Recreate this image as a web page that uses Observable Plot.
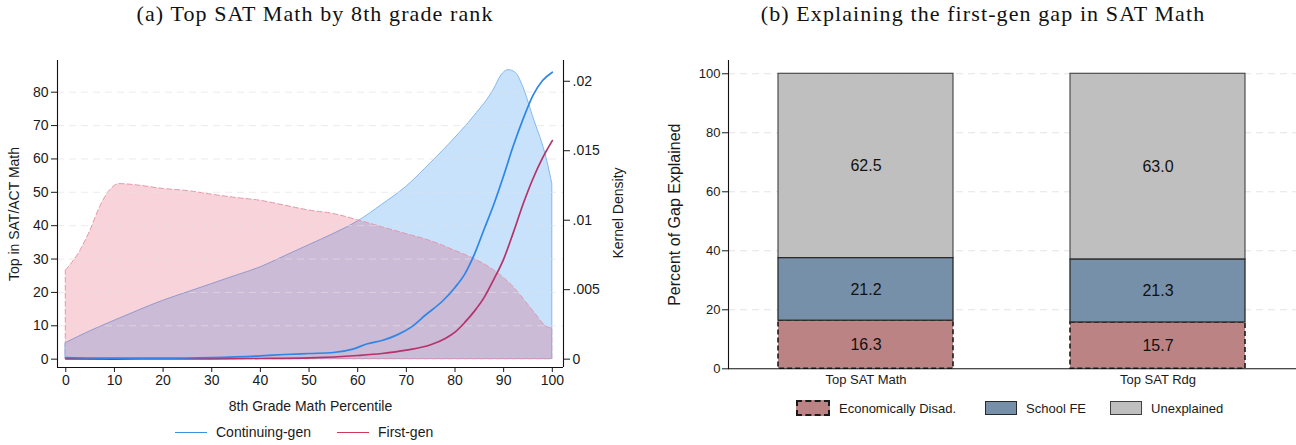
<!DOCTYPE html>
<html>
<head>
<meta charset="utf-8">
<script src="https://cdn.jsdelivr.net/npm/d3@7"></script>
<script src="https://cdn.jsdelivr.net/npm/@observablehq/plot@0.6"></script>
<style>
  body { margin: 0; background: #fff; }
  #wrap { position: relative; width: 1296px; height: 445px; overflow: hidden;
          font-family: "Liberation Sans", Arial, Helvetica, sans-serif; color: #1a1a1a; }
  .title { position: absolute; top: 1px; line-height: 26px; font-family: "Liberation Serif", "Times New Roman", serif;
           font-size: 22px; letter-spacing: 1.1px; white-space: nowrap; transform: translateX(-50%); color: #111; }
  .panel { position: absolute; top: 40px; }
  .legend { position: absolute; display: flex; align-items: center; white-space: nowrap; }
  .legend .item { display: flex; align-items: center; }
  .lsw { width: 32px; height: 0; margin-right: 9px; }
  .bsw { width: 30px; height: 12px; margin-right: 9px; }
  .vlabel { position: absolute; white-space: nowrap; font-size: 14px; line-height: 16px;
            transform: translate(-50%, -50%) rotate(-90deg); }
</style>
</head>
<body>
<div id="wrap">
  <div class="title" style="left:315px">(a) Top SAT Math by 8th grade rank</div>
  <div class="title" style="left:983px">(b) Explaining the first-gen gap in SAT Math</div>
  <div class="panel" id="left" style="left:0px"></div>
  <div class="panel" id="right" style="left:640px"></div>
  <div class="vlabel" id="kdLabel" style="left:618px; top:213px;"></div>
  <div class="legend" id="legL" style="left:175px; top:424px; font-size:14px;"></div>
  <div class="legend" id="legR" style="left:796px; top:400px; font-size:13px;"></div>
</div>
<script>
// ---------- Panel (a) data ----------
const contGenX   = [0, 10, 20, 30, 40, 45, 50, 55, 59, 62, 65, 68, 71, 74, 77.5, 80, 82, 84, 86, 88, 90, 92, 94, 96, 98, 100];
const contGenTop = [0.5, 0.3, 0.3, 0.5, 1.0, 1.4, 1.7, 2.0, 3.0, 4.6, 5.6, 7.2, 9.6, 13.3, 17.5, 21.5, 25.5, 31.5, 39, 46.5, 55, 64, 72, 79, 83.5, 86];
const firstGenX   = [0, 10, 20, 30, 40, 50, 60, 65, 70, 75, 78, 80, 82, 84, 86, 88, 90, 92, 94, 96, 98, 100];
const firstGenTop = [0.1, 0.0, 0.1, 0.1, 0.2, 0.4, 1.1, 1.7, 2.7, 4.3, 6.2, 8.1, 11, 14.4, 18.5, 24, 30, 38, 46.5, 54, 60.3, 65.5];

const contDensX = [0, 5, 10, 15, 20, 25, 30, 35, 40, 45, 50, 55, 60, 65, 70, 75, 80, 84, 88, 89.5, 91, 92.5, 94, 96, 99, 100];
const contDensY = [0.00115, 0.0020, 0.00276, 0.0035, 0.0042, 0.0048, 0.0054, 0.0060, 0.0066, 0.0074, 0.0082, 0.0090, 0.0099, 0.0111, 0.0124, 0.0141, 0.0159, 0.0175, 0.0194, 0.0204, 0.0208, 0.0206, 0.0196, 0.0175, 0.0142, 0.0126];
const firstDensX = [0, 3, 5, 7, 9, 11, 15, 20, 25, 30, 35, 40, 45, 50, 55, 60, 65, 70, 75, 80, 84, 88, 92, 96, 99, 100];
const firstDensY = [0.00636, 0.0078, 0.0092, 0.0109, 0.0121, 0.0126, 0.01249, 0.01225, 0.0121, 0.01184, 0.0116, 0.0114, 0.01105, 0.0107, 0.01045, 0.0100, 0.0095, 0.0090, 0.0085, 0.0078, 0.0072, 0.0064, 0.0052, 0.0035, 0.0023, 0.0022];

const leftYTicks = [0, 10, 20, 30, 40, 50, 60, 70, 80];
const xTicks = [0, 10, 20, 30, 40, 50, 60, 70, 80, 90, 100];
const densityTicks = [0, 0.005, 0.01, 0.015, 0.02];
const densityTickLabels = ["0", ".005", ".01", ".015", ".02"];
const seriesNames = ["Continuing-gen", "First-gen"];

// ---------- Panel (b) data ----------
const barCategories = ["Top SAT Math", "Top SAT Rdg"];
const components = ["Economically Disad.", "School FE", "Unexplained"];
const econDisad = [16.3, 15.7];
const schoolFE = [21.2, 21.3];
const unexplained = [62.5, 63.0];
const rightYTicks = [0, 20, 40, 60, 80, 100];

// ---------- styles ----------
const FONT = '"Liberation Sans", Arial, Helvetica, sans-serif';
const blueLine = "#2f86e6", redLine = "#b5336a";
const compStyle = {
  "Economically Disad.": {fill: "#bc8385", stroke: "#1a1a1a", dash: "5,3", sw: 1.6},
  "School FE": {fill: "#7790aa", stroke: "#2a2a2a", dash: null, sw: 1.3},
  "Unexplained": {fill: "#bfbfbf", stroke: "#404040", dash: null, sw: 1.1}
};

// density scale mapped onto left axis units
const K = 4164;
const contGen = contGenX.map((p, i) => ({p, v: contGenTop[i]}));
const firstGen = firstGenX.map((p, i) => ({p, v: firstGenTop[i]}));
const contDens = contDensX.map((p, i) => ({p, v: contDensY[i] * K}));
const firstDens = firstDensX.map((p, i) => ({p, v: firstDensY[i] * K}));

const xMin = -1.7, xMax = 102.3, yMin = -2.5, yMax = 89.5;

const left = Plot.plot({
  width: 620, height: 380,
  marginLeft: 57, marginRight: 57, marginTop: 20, marginBottom: 53,
  x: {domain: [xMin, xMax]},
  y: {domain: [yMin, yMax]},
  style: {fontFamily: FONT, fontSize: "14px", color: "#1a1a1a", background: "transparent"},
  marks: [
    Plot.areaY(contDens, {x: "p", y: "v", fill: "#2b90f5", fillOpacity: 0.26, stroke: "#84b8ee", strokeWidth: 1, curve: "monotone-x"}),
    Plot.areaY(firstDens, {x: "p", y: "v", fill: "#dc143c", fillOpacity: 0.19, stroke: "#e597aa", strokeWidth: 1, strokeDasharray: "5,3", curve: "monotone-x"}),
    Plot.gridY(leftYTicks.slice(1), {stroke: "#e2e2e2", strokeOpacity: 0.65, strokeDasharray: "7,5"}),
    Plot.lineY(firstGen, {x: "p", y: "v", stroke: redLine, strokeWidth: 1.7, curve: "monotone-x"}),
    Plot.lineY(contGen, {x: "p", y: "v", stroke: blueLine, strokeWidth: 1.7, curve: "monotone-x"}),
    Plot.ruleX([xMin], {stroke: "#111", strokeWidth: 1.1}),
    Plot.ruleX([xMax], {stroke: "#111", strokeWidth: 1.1}),
    Plot.ruleY([yMin], {stroke: "#111", strokeWidth: 1.1}),
    Plot.axisY({ticks: leftYTicks, anchor: "left", tickSize: 6, tickPadding: 3, label: "Top in SAT/ACT Math",
      labelAnchor: "center", labelArrow: "none", labelOffset: 48}),
    Plot.axisY({ticks: densityTicks.map(d => d * K), tickFormat: (d, i) => densityTickLabels[i], anchor: "right",
      tickSize: 6, tickPadding: 3, label: null}),
    Plot.axisX({ticks: xTicks, tickSize: 5, tickPadding: 3, label: "8th Grade Math Percentile",
      labelAnchor: "center", labelArrow: "none", labelOffset: 43})
  ]
});
document.getElementById("left").appendChild(left);
document.getElementById("kdLabel").textContent = "Kernel Density";

// stacked rows
const rows = [];
barCategories.forEach((c, i) => {
  const vals = [econDisad[i], schoolFE[i], unexplained[i]];
  let acc = 0;
  vals.forEach((v, j) => {
    rows.push({test: c, comp: components[j], value: v, y1: acc, y2: acc + v, mid: acc + v / 2});
    acc += v;
  });
});
const drawOrder = ["Economically Disad.", "Unexplained", "School FE"];

const right = Plot.plot({
  width: 656, height: 360,
  marginLeft: 88, marginRight: 0, marginTop: 20, marginBottom: 31.7,
  x: {domain: barCategories, paddingInner: 0.4, paddingOuter: 0.17, align: 0.5},
  y: {domain: [0, 104.5]},
  style: {fontFamily: FONT, fontSize: "13px", color: "#1a1a1a", background: "transparent"},
  marks: [
    Plot.gridY(rightYTicks.slice(1), {stroke: "#e4e4e4", strokeOpacity: 1, strokeDasharray: "7,5"}),
    ...drawOrder.map(comp => {
      const s = compStyle[comp];
      return Plot.barY(rows.filter(r => r.comp === comp), {
        x: "test", y1: "y1", y2: "y2", fill: s.fill, stroke: s.stroke, strokeWidth: s.sw,
        strokeDasharray: s.dash
      });
    }),
    Plot.text(rows, {x: "test", y: "mid", text: d => d.value.toFixed(1), fontSize: 16, fill: "#111"}),
    Plot.ruleY([0], {stroke: "#111", strokeWidth: 1.1}),
    Plot.frame({anchor: "left", stroke: "#111", strokeWidth: 1.1}),
    Plot.axisY({ticks: rightYTicks, tickSize: 6, tickPadding: 2, label: "Percent of Gap Explained",
      labelAnchor: "center", labelArrow: "none", labelOffset: 60, fontSize: 13}),
    Plot.axisX({tickSize: 0, tickPadding: 6, label: null, fontSize: 13})
  ]
});
document.getElementById("right").appendChild(right);
right.querySelectorAll("g[aria-label='y-axis label'] text").forEach(t => t.setAttribute("font-size", "16"));

// legends
const legL = document.getElementById("legL");
[[seriesNames[0], "#3d8fe0"], [seriesNames[1], "#d0385a"]].forEach(([name, col], i) => {
  const it = document.createElement("div");
  it.className = "item";
  it.style.marginRight = i === 0 ? "26px" : "0";
  it.innerHTML = `<div class="lsw" style="border-top:1.5px solid ${col}"></div><span>${name}</span>`;
  legL.appendChild(it);
});
const legR = document.getElementById("legR");
components.forEach((comp, i) => {
  const s = compStyle[comp];
  const it = document.createElement("div");
  it.className = "item";
  it.style.marginRight = i === 0 ? "29px" : (i === 1 ? "24px" : "0");
  const border = s.dash ? `2px dashed ${s.stroke}` : `1.3px solid ${s.stroke}`;
  it.innerHTML = `<div class="bsw" style="background:${s.fill};border:${border}"></div><span>${comp}</span>`;
  legR.appendChild(it);
});
</script>
</body>
</html>
